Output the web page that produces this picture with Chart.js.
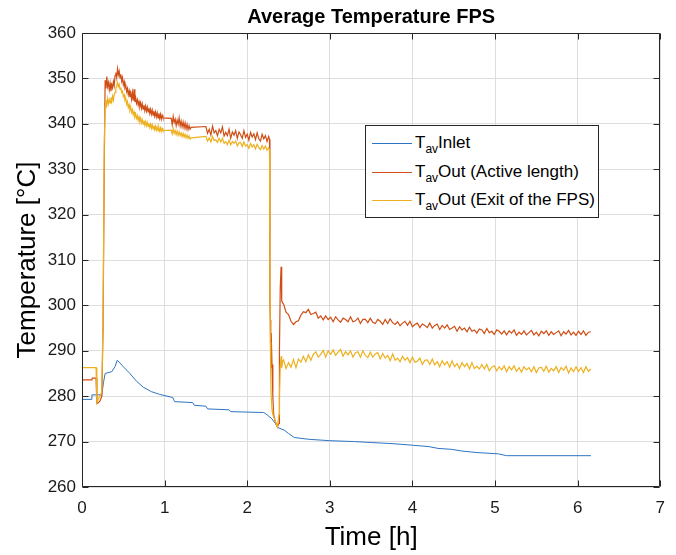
<!DOCTYPE html>
<html>
<head>
<meta charset="utf-8">
<script src="https://cdn.jsdelivr.net/npm/chart.js@4.4.1/dist/chart.umd.min.js"></script>
<style>
html,body{margin:0;padding:0;background:#fff;}
#wrap{position:relative;width:676px;height:555px;}
#legend{position:absolute;left:365px;top:125px;width:234px;height:93px;box-sizing:border-box;border:1px solid #262626;background:#fff;font-family:"Liberation Sans",Arial,Helvetica,sans-serif;font-size:17px;color:#000;}
.item{position:absolute;left:6px;height:22px;display:flex;align-items:center;white-space:nowrap;}
.swatch{width:40px;height:0;border-top:1px solid;margin-right:3px;}
.item sub{font-size:12px;position:relative;top:5px;vertical-align:baseline;line-height:0;}
</style>
</head>
<body>
<div id="wrap"><canvas id="c" width="676" height="555"></canvas><div id="legend"></div></div>
<script>
// ---------------- DATA ----------------
const xTicks = [0, 1, 2, 3, 4, 5, 6, 7];
const yTicks = [260, 270, 280, 290, 300, 310, 320, 330, 340, 350, 360];
const legendSub = 'av';
const legendPrefix = 'T';
const legendNames = ['Inlet', 'Out (Active length)', 'Out (Exit of the FPS)'];

// Inlet temperature
const inletTime = [0, 0.11, 0.12, 0.24, 0.26, 0.28, 0.36, 0.40, 0.425, 0.45, 0.50, 0.58, 0.66, 0.74, 0.84, 0.94, 1.10, 1.12, 1.34, 1.36, 1.50, 1.52, 1.78, 1.80, 2.20, 2.24, 2.30, 2.34, 2.37, 2.45, 2.50, 2.57, 2.75, 3.0, 3.3, 3.5, 3.8, 4.0, 4.2, 4.31, 4.47, 4.61, 4.77, 5.04, 5.14, 6.16];
const inletTemp = [279.3, 279.3, 280.3, 280.3, 283.0, 285.0, 285.4, 286.5, 287.9, 287.5, 286.5, 285.0, 283.3, 282.0, 281.0, 280.4, 279.7, 278.8, 278.6, 278.0, 277.8, 277.2, 277.0, 276.6, 276.4, 275.9, 275.0, 274.0, 273.1, 272.5, 271.8, 270.9, 270.5, 270.2, 270.0, 269.8, 269.5, 269.2, 268.9, 268.5, 268.3, 267.9, 267.6, 267.3, 266.9, 266.9];

// Outlet temperatures, sampled segments (gaps in the record are bridged)
const timeA = [0, 0.12, 0.125, 0.17, 0.18, 0.20, 0.22, 0.24, 0.255, 0.27];
const activeA = [283.6, 283.6, 284.0, 284.0, 278.4, 278.6, 279.0, 280.0, 295.0, 332.0];
const exitA = [286.3, 286.3, 286.3, 286.3, 278.6, 279.5, 280.0, 281.0, 298.0, 336.0];

const timeB = [0.28,0.29,0.30,0.31,0.32,0.33,0.34,0.35,0.36,0.37,0.38,0.39,0.40,0.41,0.42,0.43,0.44,0.45,0.46,0.47,0.48,0.49,0.50,0.51,0.52,0.53,0.54,0.55,0.56,0.57,0.58,0.59,0.60,0.61,0.62,0.63,0.64,0.65,0.66,0.67,0.68,0.69,0.70,0.71,0.72,0.73,0.74,0.75,0.76,0.77,0.78,0.79,0.80,0.81,0.82,0.83,0.84,0.85,0.86,0.87,0.88,0.89,0.90,0.91,0.92,0.93,0.94,0.95,0.96,0.97,0.98];
const activeB = [349.6,347.8,350.4,348.2,349.1,347.5,348.9,347.2,348.6,347.9,349.3,348.4,350.6,351.3,350.2,352.1,350.8,351.6,350.1,350.9,349.4,350.2,348.6,349.3,347.9,348.4,347.1,347.8,346.4,347.3,345.9,346.8,345.4,346.9,345.1,347.6,344.8,345.7,344.5,345.3,344.1,344.9,343.8,344.6,343.4,344.4,343.2,344.1,342.9,343.9,342.8,343.7,342.6,343.5,342.3,343.2,342.1,343.0,341.9,342.8,341.7,342.6,341.5,342.4,341.3,342.3,341.2,342.1,341.0,341.9,341.3];
const exitB = [343.8,345.2,344.1,345.6,344.4,345.3,344.6,345.8,344.9,346.1,345.2,346.4,346.9,347.8,348.4,349.1,348.2,348.7,347.6,348.0,346.9,347.2,346.0,346.4,345.2,345.6,344.3,344.9,343.6,344.2,343.0,343.6,342.5,343.1,342.0,342.6,341.5,342.1,341.2,341.8,340.8,341.5,340.5,341.2,340.2,340.9,339.9,340.7,339.7,340.5,339.6,340.3,339.4,340.1,339.2,339.9,339.0,339.8,338.9,339.6,338.7,339.5,338.6,339.3,338.5,339.2,338.4,339.1,338.3,339.0,338.5];

const timeC = [1.08,1.092,1.104,1.116,1.128,1.14,1.152,1.164,1.176,1.188,1.2,1.212,1.224,1.236,1.248,1.26,1.272,1.284,1.296,1.308,1.32];
const activeC = [341.2,339.8,341.6,340.3,341.0,339.6,340.8,339.9,341.3,339.5,340.6,339.3,340.4,339.1,340.2,338.9,339.9,338.7,339.6,338.8,339.2];
const exitC = [338.6,337.8,338.9,337.9,338.5,337.6,338.4,337.5,338.2,337.4,338.0,337.2,337.9,337.1,337.7,336.9,337.5,336.8,337.3,336.6,336.9];

const timeD = [1.50,1.52,1.54,1.56,1.58,1.60,1.62,1.64,1.66,1.68,1.70,1.72,1.74,1.76,1.78,1.80,1.82,1.84,1.86,1.88,1.90,1.92,1.94,1.96,1.98,2.00,2.02,2.04,2.06,2.08,2.10,2.12,2.14,2.16,2.18,2.20,2.22,2.24,2.26];
const activeD = [339.4,337.9,338.8,337.5,339.5,338.0,338.5,337.4,338.8,338.0,339.3,337.3,338.1,337.4,338.8,336.8,338.2,337.5,338.5,336.8,338.2,337.6,336.8,338.5,337.0,337.7,336.4,338.1,337.1,337.8,336.5,338.0,336.7,336.2,337.7,336.7,337.4,336.1,337.2];
const exitD = [337.2,336.2,336.9,336.0,337.2,336.3,336.5,335.9,336.8,336.0,336.8,335.7,336.1,335.4,336.4,335.4,336.1,335.7,336.2,335.1,335.8,335.9,335.0,336.0,335.1,335.4,334.6,335.7,334.9,335.4,334.5,335.5,334.8,334.3,335.2,334.4,335.1,334.2,334.7];

const timeT = [2.27,2.275,2.28,2.285,2.29,2.30,2.31,2.32,2.34,2.365,2.385,2.39,2.40,2.41,2.415,2.42,2.43];
const activeT = [336.6,300.0,296.8,286.2,293.9,287.0,280.0,276.0,274.4,273.3,274.0,290.0,304.0,308.5,307.8,301.0,300.5];
const exitT = [334.3,305.0,292.0,284.0,280.0,277.0,276.0,275.5,274.5,273.2,276.0,280.0,286.5,288.8,287.0,286.2,287.8];

const timeE = [2.44,2.47,2.50,2.53,2.56,2.59,2.62,2.65,2.68,2.71,2.74,2.77,2.80,2.83,2.86,2.89,2.92,2.95,2.98,3.01,3.04,3.07,3.10,3.13,3.16,3.19,3.22,3.25,3.28,3.31,3.34,3.37,3.40,3.43,3.46,3.49,3.52,3.55,3.58,3.61,3.64,3.67,3.70,3.73,3.76,3.79,3.82,3.85,3.88,3.91,3.94,3.97,4.00,4.03,4.06,4.09,4.12,4.15,4.18,4.21,4.24,4.27,4.30,4.33,4.36,4.39,4.42,4.45,4.48,4.51,4.54,4.57,4.60,4.63,4.66,4.69,4.72,4.75,4.78,4.81,4.84,4.87,4.90,4.93,4.96,4.99,5.02,5.05,5.08,5.11,5.14,5.17,5.20,5.23,5.26,5.29,5.32,5.35,5.38,5.41,5.44,5.47,5.50,5.53,5.56,5.59,5.62,5.65,5.68,5.71,5.74,5.77,5.80,5.83,5.86,5.89,5.92,5.95,5.98,6.01,6.04,6.07,6.10,6.13,6.16];
const activeE = [300.3,298.5,298.0,296.5,295.8,296.4,296.6,297.9,298.6,298.4,
299.1,298.0,298.2,298.5,297.2,297.7,296.8,297.7,296.9,297.4,
296.4,297.5,296.8,296.3,297.2,296.9,296.4,297.5,296.4,296.6,
297.2,296.0,296.9,296.9,296.2,297.2,296.3,296.0,296.9,296.5,
295.8,296.9,296.0,297.0,296.2,295.8,296.4,295.5,296.1,296.5,
295.6,296.5,295.3,295.8,296.1,295.1,295.9,295.6,295.1,296.1,
295.0,295.6,295.9,294.7,295.6,295.0,295.7,294.7,295.0,295.4,
294.3,295.3,294.6,295.0,294.2,295.2,294.3,294.6,293.9,294.8,
294.6,293.8,294.9,294.0,294.3,293.6,294.6,294.3,293.7,294.4,
293.5,294.4,293.9,294.6,293.4,294.1,293.6,294.4,293.5,294.0,
294.5,293.5,294.1,293.3,294.3,293.8,294.4,293.4,294.2,293.6,
294.0,294.4,293.3,294.2,293.7,294.5,293.5,294.1,293.4,294.3,
293.6,294.4,293.4,294.1,294.2];
const exitE = [288.0,286.1,287.4,286.4,288.1,286.3,288.2,287.5,288.8,287.6,
289.1,287.9,289.2,289.8,288.6,289.2,290.1,288.6,290.0,289.2,
290.2,289.0,289.7,290.3,288.8,289.8,289.1,290.0,288.6,289.6,
289.8,288.6,290.0,289.0,288.5,289.7,288.6,289.3,289.6,288.2,
289.4,288.4,289.0,287.8,289.3,287.9,288.4,287.6,288.8,287.9,
288.5,287.4,288.6,287.5,287.7,288.4,287.0,287.9,288.0,287.0,
288.2,286.9,287.6,286.5,287.8,286.9,287.6,286.4,287.8,286.5,
287.2,286.1,287.4,286.5,287.2,286.0,287.4,286.1,286.6,286.0,
287.0,286.0,287.0,285.6,286.4,286.7,285.6,286.5,285.8,286.7,
285.4,286.5,285.8,286.7,285.5,286.3,285.3,286.5,285.8,286.3,
285.4,286.5,285.2,286.2,286.4,285.5,286.6,285.3,286.1,285.6,
286.5,285.2,286.3,285.7,286.6,285.1,286.2,285.4,286.5,285.5,
286.3,285.2,286.5,285.5,286.0];

// ---------------- BUILD ----------------
const outTime = [].concat(timeA, timeB, timeC, timeD, timeT, timeE);
const activeTemp = [].concat(activeA, activeB, activeC, activeD, activeT, activeE);
const exitTemp = [].concat(exitA, exitB, exitC, exitD, exitT, exitE);
const pts = (ts, vs) => ts.map((t, i) => ({x: t, y: vs[i]}));

const colors = ['#2d74c4', '#CF4E16', '#EDB120'];
const FONT = "'Liberation Sans', Arial, Helvetica, sans-serif";
Chart.defaults.font.family = FONT;
Chart.defaults.color = '#1a1a1a';

const boxPlugin = {
  id: 'boxTicks',
  afterDraw(chart) {
    const {ctx, chartArea: a, scales: {x, y}} = chart;
    ctx.save();
    ctx.strokeStyle = '#262626';
    ctx.lineWidth = 1;
    ctx.beginPath();
    const L = Math.round(a.left) + 0.5, R = Math.round(a.right) - 0.5;
    const T = Math.round(a.top) + 0.5, B = Math.round(a.bottom) - 0.5;
    xTicks.forEach(v => {
      const px = Math.round(x.getPixelForValue(v)) + 0.5;
      ctx.moveTo(px, B); ctx.lineTo(px, B - 6);
      ctx.moveTo(px, T); ctx.lineTo(px, T + 6);
    });
    yTicks.forEach(v => {
      const py = Math.round(y.getPixelForValue(v)) + 0.5;
      ctx.moveTo(L, py); ctx.lineTo(L + 6, py);
      ctx.moveTo(R, py); ctx.lineTo(R - 6, py);
    });
    ctx.rect(L, T, R - L, B - T);
    ctx.stroke();
    ctx.restore();
  }
};

const chart = new Chart(document.getElementById('c'), {
  type: 'line',
  data: {
    datasets: [
      {label: legendPrefix + legendSub + ' ' + legendNames[0], data: pts(inletTime, inletTemp), borderColor: colors[0], backgroundColor: colors[0], borderWidth: 1, pointRadius: 0, order: 3},
      {label: legendPrefix + legendSub + ' ' + legendNames[1], data: pts(outTime, activeTemp), borderColor: colors[1], backgroundColor: colors[1], borderWidth: 1.2, pointRadius: 0, order: 2},
      {label: legendPrefix + legendSub + ' ' + legendNames[2], data: pts(outTime, exitTemp), borderColor: colors[2], backgroundColor: colors[2], borderWidth: 1.2, pointRadius: 0, order: 1}
    ]
  },
  options: {
    responsive: false,
    animation: false,
    layout: {padding: {left: 0, right: 13, top: 0, bottom: 0}},
    plugins: {
      legend: {display: false},
      tooltip: {enabled: false},
      title: {display: true, fullSize: false, text: 'Average Temperature FPS', color: '#000', font: {size: 20, weight: 'bold', family: FONT}, padding: {top: 5, bottom: 4}}
    },
    scales: {
      x: {
        type: 'linear', min: 0, max: 7,
        afterBuildTicks: s => { s.ticks = xTicks.map(v => ({value: v})); },
        afterFit: s => { s.height = 68; },
        ticks: {font: {size: 17}, padding: 11, color: '#1a1a1a', maxRotation: 0},
        grid: {color: '#dedede', drawTicks: false, lineWidth: 1},
        border: {display: false},
        title: {display: true, text: 'Time [h]', color: '#000', font: {size: 26}, padding: {top: 0, bottom: 2}}
      },
      y: {
        type: 'linear', min: 260, max: 360,
        afterBuildTicks: s => { s.ticks = yTicks.map(v => ({value: v})); },
        afterFit: s => { s.width = 82; },
        ticks: {font: {size: 17}, padding: 6, color: '#1a1a1a'},
        grid: {color: '#dedede', drawTicks: false, lineWidth: 1},
        border: {display: false},
        title: {display: true, text: 'Temperature [°C]', color: '#000', font: {size: 26}, padding: {top: 12, bottom: 0}}
      }
    }
  },
  plugins: [boxPlugin]
});

// HTML legend (allows the subscript "av")
const legendEl = document.getElementById('legend');
const rowTops = [6, 35, 63];
chart.data.datasets.forEach((ds, i) => {
  const item = document.createElement('div');
  item.className = 'item';
  item.style.top = rowTops[i] + 'px';
  const sw = document.createElement('span');
  sw.className = 'swatch';
  sw.style.borderTopColor = ds.borderColor;
  item.appendChild(sw);
  const txt = document.createElement('span');
  txt.innerHTML = legendPrefix + '<sub>' + legendSub + '</sub>' + legendNames[i];
  item.appendChild(txt);
  legendEl.appendChild(item);
});
</script>
</body>
</html>
